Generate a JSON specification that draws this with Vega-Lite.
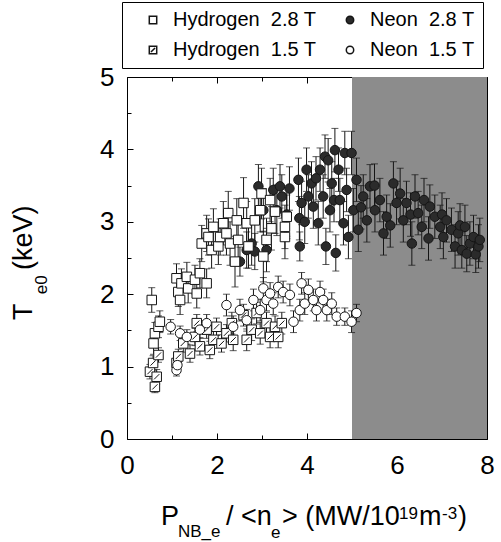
{
  "$schema": "https://vega.github.io/schema/vega-lite/v6.json",
  "width": 360,
  "height": 362,
  "autosize": {"type": "none"},
  "padding": {"left": 127, "top": 77, "right": 14, "bottom": 103},
  "background": "white",
  "config": {
    "view": {"stroke": null},
    "font": "Liberation Sans",
    "axis": {"grid": false, "domainColor": "black", "domainWidth": 1, "tickColor": "black", "tickWidth": 1, "labelColor": "black", "labelFont": "Liberation Sans", "labelFontSize": 26, "labelFlush": false, "labelOverlap": false, "labelBound": false},
    "text": {"font": "Liberation Sans", "color": "black"}
  },
  "datasets": {
    "band": [{"x0": 5, "x1": 8, "y0": 0, "y1": 5}],
    "pts": [
      {"s": "Neon 2.8 T", "x": 2.51, "y": 2.45, "e": 0.2},
      {"s": "Neon 2.8 T", "x": 2.66, "y": 2.61, "e": 0.25},
      {"s": "Neon 2.8 T", "x": 2.77, "y": 2.70, "e": 0.3},
      {"s": "Neon 2.8 T", "x": 2.84, "y": 2.59, "e": 0.25},
      {"s": "Neon 2.8 T", "x": 2.92, "y": 3.49, "e": 0.3},
      {"s": "Neon 2.8 T", "x": 3.03, "y": 3.16, "e": 0.3},
      {"s": "Neon 2.8 T", "x": 3.10, "y": 2.61, "e": 0.3},
      {"s": "Neon 2.8 T", "x": 3.25, "y": 3.44, "e": 0.3},
      {"s": "Neon 2.8 T", "x": 3.33, "y": 3.16, "e": 0.35},
      {"s": "Neon 2.8 T", "x": 3.40, "y": 3.49, "e": 0.3},
      {"s": "Neon 2.8 T", "x": 3.44, "y": 3.35, "e": 0.3},
      {"s": "Neon 2.8 T", "x": 3.55, "y": 3.10, "e": 0.3},
      {"s": "Neon 2.8 T", "x": 3.61, "y": 3.46, "e": 0.3},
      {"s": "Neon 2.8 T", "x": 3.81, "y": 3.58, "e": 0.3},
      {"s": "Neon 2.8 T", "x": 3.83, "y": 3.05, "e": 0.3},
      {"s": "Neon 2.8 T", "x": 3.84, "y": 2.66, "e": 0.2},
      {"s": "Neon 2.8 T", "x": 3.88, "y": 3.26, "e": 0.3},
      {"s": "Neon 2.8 T", "x": 3.95, "y": 3.00, "e": 0.3},
      {"s": "Neon 2.8 T", "x": 3.99, "y": 3.72, "e": 0.3},
      {"s": "Neon 2.8 T", "x": 4.03, "y": 3.35, "e": 0.3},
      {"s": "Neon 2.8 T", "x": 4.10, "y": 3.53, "e": 0.3},
      {"s": "Neon 2.8 T", "x": 4.14, "y": 3.21, "e": 0.3},
      {"s": "Neon 2.8 T", "x": 4.20, "y": 3.60, "e": 0.3},
      {"s": "Neon 2.8 T", "x": 4.25, "y": 2.98, "e": 0.3},
      {"s": "Neon 2.8 T", "x": 4.29, "y": 3.72, "e": 0.3},
      {"s": "Neon 2.8 T", "x": 4.36, "y": 3.35, "e": 0.3},
      {"s": "Neon 2.8 T", "x": 4.40, "y": 3.90, "e": 0.3},
      {"s": "Neon 2.8 T", "x": 4.42, "y": 2.66, "e": 0.25},
      {"s": "Neon 2.8 T", "x": 4.47, "y": 3.85, "e": 0.3},
      {"s": "Neon 2.8 T", "x": 4.51, "y": 3.16, "e": 0.3},
      {"s": "Neon 2.8 T", "x": 4.55, "y": 3.53, "e": 0.3},
      {"s": "Neon 2.8 T", "x": 4.60, "y": 3.30, "e": 0.3},
      {"s": "Neon 2.8 T", "x": 4.62, "y": 3.99, "e": 0.3},
      {"s": "Neon 2.8 T", "x": 4.64, "y": 2.57, "e": 0.25},
      {"s": "Neon 2.8 T", "x": 4.70, "y": 3.72, "e": 0.3},
      {"s": "Neon 2.8 T", "x": 4.73, "y": 3.30, "e": 0.3},
      {"s": "Neon 2.8 T", "x": 4.81, "y": 2.98, "e": 0.3},
      {"s": "Neon 2.8 T", "x": 4.84, "y": 3.95, "e": 0.3},
      {"s": "Neon 2.8 T", "x": 4.88, "y": 3.44, "e": 0.3},
      {"s": "Neon 2.8 T", "x": 4.92, "y": 2.79, "e": 0.3},
      {"s": "Neon 2.8 T", "x": 4.99, "y": 3.95, "e": 0.3},
      {"s": "Neon 2.8 T", "x": 5.03, "y": 3.16, "e": 0.3},
      {"s": "Neon 2.8 T", "x": 5.10, "y": 3.58, "e": 0.3},
      {"s": "Neon 2.8 T", "x": 5.14, "y": 2.89, "e": 0.3},
      {"s": "Neon 2.8 T", "x": 5.20, "y": 3.20, "e": 0.3},
      {"s": "Neon 2.8 T", "x": 5.25, "y": 3.35, "e": 0.3},
      {"s": "Neon 2.8 T", "x": 5.33, "y": 3.02, "e": 0.3},
      {"s": "Neon 2.8 T", "x": 5.40, "y": 3.49, "e": 0.3},
      {"s": "Neon 2.8 T", "x": 5.50, "y": 3.50, "e": 0.3},
      {"s": "Neon 2.8 T", "x": 5.51, "y": 3.16, "e": 0.3},
      {"s": "Neon 2.8 T", "x": 5.62, "y": 3.30, "e": 0.3},
      {"s": "Neon 2.8 T", "x": 5.70, "y": 2.84, "e": 0.3},
      {"s": "Neon 2.8 T", "x": 5.77, "y": 3.07, "e": 0.3},
      {"s": "Neon 2.8 T", "x": 5.85, "y": 2.95, "e": 0.3},
      {"s": "Neon 2.8 T", "x": 5.92, "y": 3.53, "e": 0.3},
      {"s": "Neon 2.8 T", "x": 5.99, "y": 3.26, "e": 0.3},
      {"s": "Neon 2.8 T", "x": 6.07, "y": 3.39, "e": 0.35},
      {"s": "Neon 2.8 T", "x": 6.14, "y": 3.02, "e": 0.3},
      {"s": "Neon 2.8 T", "x": 6.21, "y": 3.26, "e": 0.3},
      {"s": "Neon 2.8 T", "x": 6.30, "y": 3.10, "e": 0.3},
      {"s": "Neon 2.8 T", "x": 6.33, "y": 2.70, "e": 0.3},
      {"s": "Neon 2.8 T", "x": 6.40, "y": 3.35, "e": 0.3},
      {"s": "Neon 2.8 T", "x": 6.47, "y": 3.12, "e": 0.3},
      {"s": "Neon 2.8 T", "x": 6.55, "y": 2.93, "e": 0.3},
      {"s": "Neon 2.8 T", "x": 6.60, "y": 3.30, "e": 0.3},
      {"s": "Neon 2.8 T", "x": 6.70, "y": 2.77, "e": 0.3},
      {"s": "Neon 2.8 T", "x": 6.73, "y": 3.21, "e": 0.3},
      {"s": "Neon 2.8 T", "x": 6.84, "y": 3.07, "e": 0.3},
      {"s": "Neon 2.8 T", "x": 6.96, "y": 2.93, "e": 0.3},
      {"s": "Neon 2.8 T", "x": 7.00, "y": 3.10, "e": 0.3},
      {"s": "Neon 2.8 T", "x": 7.03, "y": 2.79, "e": 0.3},
      {"s": "Neon 2.8 T", "x": 7.10, "y": 3.02, "e": 0.3},
      {"s": "Neon 2.8 T", "x": 7.21, "y": 2.89, "e": 0.3},
      {"s": "Neon 2.8 T", "x": 7.29, "y": 2.66, "e": 0.3},
      {"s": "Neon 2.8 T", "x": 7.36, "y": 2.84, "e": 0.3},
      {"s": "Neon 2.8 T", "x": 7.40, "y": 2.95, "e": 0.3},
      {"s": "Neon 2.8 T", "x": 7.44, "y": 2.61, "e": 0.25},
      {"s": "Neon 2.8 T", "x": 7.51, "y": 2.93, "e": 0.3},
      {"s": "Neon 2.8 T", "x": 7.55, "y": 2.56, "e": 0.25},
      {"s": "Neon 2.8 T", "x": 7.62, "y": 2.70, "e": 0.3},
      {"s": "Neon 2.8 T", "x": 7.70, "y": 2.79, "e": 0.3},
      {"s": "Neon 2.8 T", "x": 7.75, "y": 2.55, "e": 0.25},
      {"s": "Neon 2.8 T", "x": 7.81, "y": 2.66, "e": 0.3},
      {"s": "Neon 2.8 T", "x": 7.84, "y": 2.75, "e": 0.3},
      {"s": "Hydrogen 1.5 T", "x": 0.51, "y": 0.93, "e": 0.1},
      {"s": "Hydrogen 1.5 T", "x": 0.58, "y": 1.05, "e": 0.1},
      {"s": "Hydrogen 1.5 T", "x": 0.62, "y": 0.72, "e": 0.08},
      {"s": "Hydrogen 1.5 T", "x": 0.66, "y": 0.86, "e": 0.1},
      {"s": "Hydrogen 1.5 T", "x": 0.70, "y": 1.16, "e": 0.1},
      {"s": "Hydrogen 1.5 T", "x": 1.10, "y": 1.05, "e": 0.1},
      {"s": "Hydrogen 1.5 T", "x": 1.14, "y": 1.14, "e": 0.1},
      {"s": "Hydrogen 1.5 T", "x": 1.25, "y": 1.32, "e": 0.12},
      {"s": "Hydrogen 1.5 T", "x": 1.40, "y": 1.18, "e": 0.12},
      {"s": "Hydrogen 1.5 T", "x": 1.51, "y": 1.41, "e": 0.12},
      {"s": "Hydrogen 1.5 T", "x": 1.55, "y": 1.60, "e": 0.12},
      {"s": "Hydrogen 1.5 T", "x": 1.62, "y": 1.28, "e": 0.12},
      {"s": "Hydrogen 1.5 T", "x": 1.77, "y": 1.51, "e": 0.12},
      {"s": "Hydrogen 1.5 T", "x": 1.84, "y": 1.23, "e": 0.12},
      {"s": "Hydrogen 1.5 T", "x": 1.92, "y": 1.37, "e": 0.12},
      {"s": "Hydrogen 1.5 T", "x": 1.99, "y": 1.55, "e": 0.12},
      {"s": "Hydrogen 1.5 T", "x": 2.10, "y": 1.32, "e": 0.12},
      {"s": "Hydrogen 1.5 T", "x": 2.21, "y": 1.46, "e": 0.12},
      {"s": "Hydrogen 1.5 T", "x": 2.33, "y": 1.60, "e": 0.15},
      {"s": "Hydrogen 1.5 T", "x": 2.36, "y": 1.37, "e": 0.15},
      {"s": "Hydrogen 1.5 T", "x": 2.59, "y": 1.71, "e": 0.15},
      {"s": "Hydrogen 1.5 T", "x": 2.66, "y": 1.37, "e": 0.15},
      {"s": "Hydrogen 1.5 T", "x": 2.77, "y": 1.51, "e": 0.15},
      {"s": "Hydrogen 1.5 T", "x": 2.88, "y": 1.74, "e": 0.15},
      {"s": "Hydrogen 1.5 T", "x": 2.96, "y": 1.46, "e": 0.15},
      {"s": "Hydrogen 1.5 T", "x": 3.10, "y": 1.60, "e": 0.15},
      {"s": "Hydrogen 1.5 T", "x": 3.18, "y": 1.41, "e": 0.15},
      {"s": "Hydrogen 1.5 T", "x": 3.29, "y": 1.55, "e": 0.15},
      {"s": "Hydrogen 1.5 T", "x": 3.36, "y": 1.41, "e": 0.15},
      {"s": "Hydrogen 1.5 T", "x": 3.44, "y": 1.60, "e": 0.15},
      {"s": "Neon 1.5 T", "x": 0.97, "y": 1.55, "e": 0.1},
      {"s": "Neon 1.5 T", "x": 1.10, "y": 0.95, "e": 0.08},
      {"s": "Neon 1.5 T", "x": 1.12, "y": 1.02, "e": 0.08},
      {"s": "Neon 1.5 T", "x": 1.18, "y": 1.46, "e": 0.1},
      {"s": "Neon 1.5 T", "x": 1.33, "y": 1.41, "e": 0.1},
      {"s": "Neon 1.5 T", "x": 1.62, "y": 1.51, "e": 0.12},
      {"s": "Neon 1.5 T", "x": 1.77, "y": 1.60, "e": 0.12},
      {"s": "Neon 1.5 T", "x": 2.21, "y": 1.85, "e": 0.15},
      {"s": "Neon 1.5 T", "x": 2.36, "y": 1.55, "e": 0.15},
      {"s": "Neon 1.5 T", "x": 2.51, "y": 1.78, "e": 0.15},
      {"s": "Neon 1.5 T", "x": 2.66, "y": 1.64, "e": 0.15},
      {"s": "Neon 1.5 T", "x": 2.81, "y": 1.92, "e": 0.15},
      {"s": "Neon 1.5 T", "x": 2.96, "y": 1.78, "e": 0.15},
      {"s": "Neon 1.5 T", "x": 3.03, "y": 2.08, "e": 0.15},
      {"s": "Neon 1.5 T", "x": 3.10, "y": 1.92, "e": 0.15},
      {"s": "Neon 1.5 T", "x": 3.18, "y": 2.01, "e": 0.15},
      {"s": "Neon 1.5 T", "x": 3.25, "y": 1.87, "e": 0.15},
      {"s": "Neon 1.5 T", "x": 3.36, "y": 2.10, "e": 0.15},
      {"s": "Neon 1.5 T", "x": 3.47, "y": 2.03, "e": 0.15},
      {"s": "Neon 1.5 T", "x": 3.62, "y": 1.99, "e": 0.15},
      {"s": "Neon 1.5 T", "x": 3.70, "y": 1.62, "e": 0.15},
      {"s": "Neon 1.5 T", "x": 3.84, "y": 1.78, "e": 0.15},
      {"s": "Neon 1.5 T", "x": 3.88, "y": 2.15, "e": 0.15},
      {"s": "Neon 1.5 T", "x": 3.95, "y": 1.87, "e": 0.15},
      {"s": "Neon 1.5 T", "x": 4.03, "y": 2.06, "e": 0.15},
      {"s": "Neon 1.5 T", "x": 4.14, "y": 1.92, "e": 0.15},
      {"s": "Neon 1.5 T", "x": 4.21, "y": 1.78, "e": 0.15},
      {"s": "Neon 1.5 T", "x": 4.29, "y": 2.03, "e": 0.15},
      {"s": "Neon 1.5 T", "x": 4.36, "y": 1.92, "e": 0.15},
      {"s": "Neon 1.5 T", "x": 4.44, "y": 1.78, "e": 0.15},
      {"s": "Neon 1.5 T", "x": 4.55, "y": 1.87, "e": 0.15},
      {"s": "Neon 1.5 T", "x": 4.66, "y": 1.69, "e": 0.12},
      {"s": "Neon 1.5 T", "x": 4.84, "y": 1.69, "e": 0.12},
      {"s": "Neon 1.5 T", "x": 4.99, "y": 1.62, "e": 0.15},
      {"s": "Neon 1.5 T", "x": 5.10, "y": 1.74, "e": 0.12},
      {"s": "Hydrogen 2.8 T", "x": 0.55, "y": 1.92, "e": 0.17},
      {"s": "Hydrogen 2.8 T", "x": 0.59, "y": 1.32, "e": 0.15},
      {"s": "Hydrogen 2.8 T", "x": 0.62, "y": 1.46, "e": 0.15},
      {"s": "Hydrogen 2.8 T", "x": 0.70, "y": 1.55, "e": 0.15},
      {"s": "Hydrogen 2.8 T", "x": 0.73, "y": 1.62, "e": 0.15},
      {"s": "Hydrogen 2.8 T", "x": 1.10, "y": 2.22, "e": 0.2},
      {"s": "Hydrogen 2.8 T", "x": 1.14, "y": 2.03, "e": 0.2},
      {"s": "Hydrogen 2.8 T", "x": 1.18, "y": 1.92, "e": 0.2},
      {"s": "Hydrogen 2.8 T", "x": 1.21, "y": 2.15, "e": 0.2},
      {"s": "Hydrogen 2.8 T", "x": 1.33, "y": 2.24, "e": 0.2},
      {"s": "Hydrogen 2.8 T", "x": 1.36, "y": 2.08, "e": 0.2},
      {"s": "Hydrogen 2.8 T", "x": 1.51, "y": 2.20, "e": 0.2},
      {"s": "Hydrogen 2.8 T", "x": 1.55, "y": 2.01, "e": 0.2},
      {"s": "Hydrogen 2.8 T", "x": 1.62, "y": 2.29, "e": 0.2},
      {"s": "Hydrogen 2.8 T", "x": 1.77, "y": 2.15, "e": 0.2},
      {"s": "Hydrogen 2.8 T", "x": 1.66, "y": 2.70, "e": 0.25},
      {"s": "Hydrogen 2.8 T", "x": 1.77, "y": 2.84, "e": 0.25},
      {"s": "Hydrogen 2.8 T", "x": 1.81, "y": 2.79, "e": 0.25},
      {"s": "Hydrogen 2.8 T", "x": 1.88, "y": 2.61, "e": 0.25},
      {"s": "Hydrogen 2.8 T", "x": 1.92, "y": 2.93, "e": 0.25},
      {"s": "Hydrogen 2.8 T", "x": 2.03, "y": 2.66, "e": 0.25},
      {"s": "Hydrogen 2.8 T", "x": 2.07, "y": 2.79, "e": 0.25},
      {"s": "Hydrogen 2.8 T", "x": 2.14, "y": 2.98, "e": 0.3},
      {"s": "Hydrogen 2.8 T", "x": 2.21, "y": 2.84, "e": 0.3},
      {"s": "Hydrogen 2.8 T", "x": 2.25, "y": 3.12, "e": 0.3},
      {"s": "Hydrogen 2.8 T", "x": 2.29, "y": 2.70, "e": 0.3},
      {"s": "Hydrogen 2.8 T", "x": 2.40, "y": 2.45, "e": 0.35},
      {"s": "Hydrogen 2.8 T", "x": 2.44, "y": 3.02, "e": 0.3},
      {"s": "Hydrogen 2.8 T", "x": 2.47, "y": 2.75, "e": 0.3},
      {"s": "Hydrogen 2.8 T", "x": 2.59, "y": 3.26, "e": 0.35},
      {"s": "Hydrogen 2.8 T", "x": 2.66, "y": 2.98, "e": 0.3},
      {"s": "Hydrogen 2.8 T", "x": 2.70, "y": 2.66, "e": 0.3},
      {"s": "Hydrogen 2.8 T", "x": 2.84, "y": 3.02, "e": 0.3},
      {"s": "Hydrogen 2.8 T", "x": 2.96, "y": 3.16, "e": 0.3},
      {"s": "Hydrogen 2.8 T", "x": 2.99, "y": 3.39, "e": 0.35},
      {"s": "Hydrogen 2.8 T", "x": 3.03, "y": 2.52, "e": 0.35},
      {"s": "Hydrogen 2.8 T", "x": 3.10, "y": 2.75, "e": 0.3},
      {"s": "Hydrogen 2.8 T", "x": 3.18, "y": 3.30, "e": 0.3},
      {"s": "Hydrogen 2.8 T", "x": 3.21, "y": 2.91, "e": 0.3},
      {"s": "Hydrogen 2.8 T", "x": 3.29, "y": 3.14, "e": 0.3},
      {"s": "Hydrogen 2.8 T", "x": 3.51, "y": 2.93, "e": 0.3},
      {"s": "Hydrogen 2.8 T", "x": 3.51, "y": 2.79, "e": 0.3},
      {"s": "Hydrogen 2.8 T", "x": 3.55, "y": 3.07, "e": 0.3}
    ]
  },
  "layer": [
    {
      "data": {"name": "band"},
      "mark": {"type": "rect", "color": "#8c8c8c"},
      "encoding": {
        "x": {"field": "x0", "type": "quantitative", "scale": {"domain": [0, 8], "nice": false, "zero": false},
          "axis": {"orient": "bottom", "title": null, "values": [0, 1, 2, 3, 4, 5, 6, 7, 8], "labelExpr": "datum.value % 2 === 0 ? '' + datum.value : ''", "tickSize": {"condition": {"test": "datum.value % 2 === 0", "value": -6}, "value": -4}, "labelPadding": 19}},
        "x2": {"field": "x1"},
        "y": {"field": "y0", "type": "quantitative", "scale": {"domain": [0, 5], "nice": false, "zero": false},
          "axis": {"orient": "left", "title": null, "values": [0, 0.5, 1, 1.5, 2, 2.5, 3, 3.5, 4, 4.5, 5], "labelExpr": "datum.value % 1 === 0 ? '' + datum.value : ''", "tickSize": {"condition": {"test": "datum.value % 1 === 0", "value": -6}, "value": -4}, "labelPadding": 19}},
        "y2": {"field": "y1"}
      }
    },
    {
      "data": {"name": "band"},
      "mark": {"type": "rect", "opacity": 0},
      "encoding": {
        "x": {"field": "x0", "type": "quantitative",
          "axis": {"orient": "top", "title": null, "labels": false, "values": [0, 1, 2, 3, 4, 5, 6, 7, 8], "tickSize": {"condition": {"test": "datum.value % 2 === 0", "value": -6}, "value": -4}}},
        "x2": {"field": "x1"},
        "y": {"field": "y0", "type": "quantitative",
          "axis": {"orient": "right", "title": null, "labels": false, "values": [0, 0.5, 1, 1.5, 2, 2.5, 3, 3.5, 4, 4.5, 5], "tickSize": {"condition": {"test": "datum.value % 1 === 0", "value": -6}, "value": -4}}},
        "y2": {"field": "y1"}
      }
    },
    {
      "data": {"name": "pts"},
      "mark": {"type": "errorbar", "ticks": {"size": 7}, "color": "#151515", "thickness": 1},
      "encoding": {
        "x": {"field": "x", "type": "quantitative", "axis": null},
        "y": {"field": "y", "type": "quantitative", "axis": null},
        "yError": {"field": "e"}
      }
    },
    {
      "data": {"name": "pts"},
      "mark": {"type": "point", "filled": true, "size": 90, "stroke": "#151515", "strokeWidth": 1, "opacity": 1},
      "encoding": {
        "x": {"field": "x", "type": "quantitative", "axis": null},
        "y": {"field": "y", "type": "quantitative", "axis": null},
        "shape": {"field": "s", "type": "nominal",
          "scale": {"domain": ["Hydrogen 2.8 T", "Hydrogen 1.5 T", "Neon 2.8 T", "Neon 1.5 T"], "range": ["square", "M-1,-1H1V1H-1Z M-0.55,0.55L0.55,-0.55", "circle", "circle"]},
          "legend": {"title": null, "orient": "none", "legendX": -5, "legendY": -75, "columns": 2, "labelFontSize": 20, "labelFont": "Liberation Sans", "labelColor": "black", "symbolSize": 55, "strokeColor": "black", "fillColor": "white", "padding": 8, "rowPadding": 10, "columnPadding": 10, "symbolOffset": 13, "labelOffset": 10, "labelLimit": 300, "labelExpr": "replace(datum.label, ' ', '\u00a0 ')",
            "encode": {"symbols": {"update": {"stroke": {"value": "black"}, "strokeWidth": {"value": 1}}}}}},
        "fill": {"field": "s", "type": "nominal",
          "scale": {"domain": ["Hydrogen 2.8 T", "Hydrogen 1.5 T", "Neon 2.8 T", "Neon 1.5 T"], "range": ["white", "white", "#2b2b2b", "white"]},
          "legend": {"title": null, "orient": "none", "legendX": -5, "legendY": -75, "columns": 2, "labelFontSize": 20, "labelFont": "Liberation Sans", "labelColor": "black", "symbolSize": 55, "strokeColor": "black", "fillColor": "white", "padding": 8, "rowPadding": 10, "columnPadding": 10, "symbolOffset": 13, "labelOffset": 10, "labelLimit": 300, "labelExpr": "replace(datum.label, ' ', '\u00a0 ')",
            "encode": {"symbols": {"update": {"stroke": {"value": "black"}, "strokeWidth": {"value": 1}}}}}}
      }
    },
    {"data": {"name": "band"}, "mark": {"type": "text", "text": "P", "fontSize": 27, "align": "left", "baseline": "alphabetic"},
      "encoding": {"x": {"datum": 0.7556, "type": "quantitative", "axis": null}, "y": {"datum": -1.188, "type": "quantitative", "axis": null}}},
    {"data": {"name": "band"}, "mark": {"type": "text", "text": "NB_e", "fontSize": 17, "align": "left", "baseline": "alphabetic"},
      "encoding": {"x": {"datum": 1.1333, "type": "quantitative", "axis": null}, "y": {"datum": -1.354, "type": "quantitative", "axis": null}}},
    {"data": {"name": "band"}, "mark": {"type": "text", "text": "/ <n", "fontSize": 27, "align": "left", "baseline": "alphabetic"},
      "encoding": {"x": {"datum": 2.2, "type": "quantitative", "axis": null}, "y": {"datum": -1.188, "type": "quantitative", "axis": null}}},
    {"data": {"name": "band"}, "mark": {"type": "text", "text": "e", "fontSize": 17, "align": "left", "baseline": "alphabetic"},
      "encoding": {"x": {"datum": 3.2, "type": "quantitative", "axis": null}, "y": {"datum": -1.368, "type": "quantitative", "axis": null}}},
    {"data": {"name": "band"}, "mark": {"type": "text", "text": "> (MW/10", "fontSize": 27, "align": "left", "baseline": "alphabetic"},
      "encoding": {"x": {"datum": 3.4444, "type": "quantitative", "axis": null}, "y": {"datum": -1.188, "type": "quantitative", "axis": null}}},
    {"data": {"name": "band"}, "mark": {"type": "text", "text": "19", "fontSize": 17, "align": "left", "baseline": "alphabetic"},
      "encoding": {"x": {"datum": 6.0444, "type": "quantitative", "axis": null}, "y": {"datum": -1.105, "type": "quantitative", "axis": null}}},
    {"data": {"name": "band"}, "mark": {"type": "text", "text": "m", "fontSize": 27, "align": "left", "baseline": "alphabetic"},
      "encoding": {"x": {"datum": 6.4889, "type": "quantitative", "axis": null}, "y": {"datum": -1.188, "type": "quantitative", "axis": null}}},
    {"data": {"name": "band"}, "mark": {"type": "text", "text": "-3", "fontSize": 17, "align": "left", "baseline": "alphabetic"},
      "encoding": {"x": {"datum": 7.0, "type": "quantitative", "axis": null}, "y": {"datum": -1.105, "type": "quantitative", "axis": null}}},
    {"data": {"name": "band"}, "mark": {"type": "text", "text": ")", "fontSize": 27, "align": "left", "baseline": "alphabetic"},
      "encoding": {"x": {"datum": 7.3556, "type": "quantitative", "axis": null}, "y": {"datum": -1.188, "type": "quantitative", "axis": null}}},
    {"data": {"name": "band"}, "mark": {"type": "text", "text": "T", "fontSize": 27, "align": "left", "baseline": "alphabetic", "angle": 270},
      "encoding": {"x": {"datum": -2.111, "type": "quantitative", "axis": null}, "y": {"datum": 1.644, "type": "quantitative", "axis": null}}},
    {"data": {"name": "band"}, "mark": {"type": "text", "text": "e0", "fontSize": 17, "align": "left", "baseline": "alphabetic", "angle": 270},
      "encoding": {"x": {"datum": -1.778, "type": "quantitative", "axis": null}, "y": {"datum": 2.0, "type": "quantitative", "axis": null}}},
    {"data": {"name": "band"}, "mark": {"type": "text", "text": "(keV)", "fontSize": 27, "align": "left", "baseline": "alphabetic", "angle": 270},
      "encoding": {"x": {"datum": -2.111, "type": "quantitative", "axis": null}, "y": {"datum": 2.334, "type": "quantitative", "axis": null}}}
  ],
  "resolve": {"axis": {"x": "independent", "y": "independent"}}
}
